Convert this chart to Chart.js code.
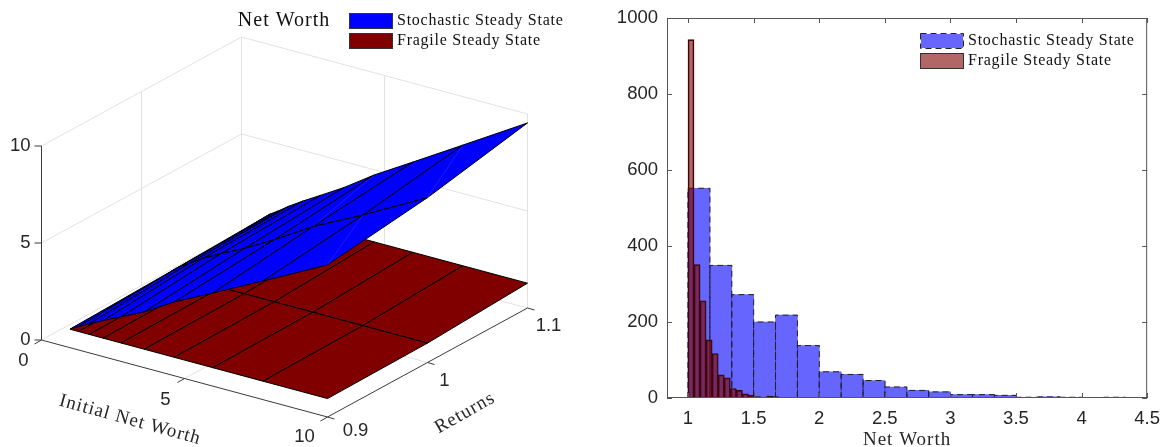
<!DOCTYPE html>
<html><head><meta charset="utf-8">
<script src="https://cdn.jsdelivr.net/npm/chart.js@4"></script>
<style>html,body{margin:0;padding:0;background:#fff;overflow:hidden}canvas{position:absolute;top:0}</style>
</head><body>
<canvas id="surf" width="585" height="447" style="left:0"></canvas>
<canvas id="hist" width="572" height="447" style="left:590px"></canvas>
<script>
// ---- data ----
const seriesNames = ['Stochastic Steady State','Fragile Steady State'];
const netWorthGrid = [1,1.29,1.67,2.15,2.78,3.59,4.64,5.99,7.74,10];
const returnsGrid = [0.9,1,1.1];
const stochasticAt090 = [0.96,1.2,1.5,1.85,2.3,2.87,3.8,4.8,6.11,7.84];
const stochasticAt100 = [1.1,1.45,1.8,2.25,2.75,3.33,4.2,5.41,6.7,8.5];
const stochasticAt110 = [1.27,1.55,1.95,2.4,2.95,3.67,4.73,5.93,7.5,9.54];
const fragileAt090 = [0.95,0.95,0.95,0.95,0.95,0.95,0.95,0.95,0.95,0.95];
const fragileAt100 = [1,1,1,1,1,1,1,1,1,1];
const fragileAt110 = [1.28,1.28,1.28,1.28,1.28,1.28,1.28,1.28,1.28,1.28];
const xTicks3d = [0,5,10];
const rTicks3d = [0.9,1,1.1];
const zTicks3d = [0,5,10];
const surfTitle = 'Net Worth', xLabel3d = 'Initial Net Worth', rLabel3d = 'Returns';

const histXLabel = 'Net Worth';
const histXTicks = [1,1.5,2,2.5,3,3.5,4,4.5];
const histYTicks = [0,200,400,600,800,1000];
const stochasticBinStart = 1, stochasticBinWidth = 0.1668;
const stochasticCounts = [552,349,272,200,218,138,69,62,46,29,20,16,9,9,7,2,3,2,0,2];
const fragileBinStart = 1, fragileBinWidth = 0.0461;
const fragileCounts = [943,351,256,153,117,61,53,25,20,11,7,4,2,5,4,2,1,1,1,0,1,1,1];

// ---- shared style ----
const INK='#262626', SERIF='"Liberation Serif"', SANS='"Liberation Sans"';
const BLUE='#0000ff', RED='#800000';
Chart.defaults.font.family=SANS;
Chart.defaults.animation=false;

// ---- 3-D view (orthographic projection onto the left panel) ----
function project(x,r,z){
  return {x:41.5+28.6*x+(r-0.9)*1000, y:340+7.7*x-(r-0.9)*545-19.4*z};
}
const lineDs=(pts,color,w,ord)=>({type:'scatter',data:pts,showLine:true,pointRadius:0,borderColor:color,borderWidth:w,fill:false,tension:0,order:ord,label:'',clip:false});
let ds3=[];
let ord=1000;
const gridC='#e2e2e2', axC='#3a3a3a';
const zTop=zTicks3d[zTicks3d.length-1], xEnd=xTicks3d[xTicks3d.length-1], rLo=rTicks3d[0], rHi=rTicks3d[2];
zTicks3d.forEach(z=>{
  ds3.push(lineDs([project(0,rLo,z),project(0,rHi,z),project(xEnd,rHi,z)],gridC,1,ord--));
});
ds3.push(lineDs([project(0,rHi,0),project(0,rHi,zTop)],gridC,1,ord--));
ds3.push(lineDs([project(xEnd,rHi,0),project(xEnd,rHi,zTop)],gridC,1,ord--));
ds3.push(lineDs([project(0,rTicks3d[1],0),project(0,rTicks3d[1],zTop)],gridC,1,ord--));
ds3.push(lineDs([project(xTicks3d[1],rHi,0),project(xTicks3d[1],rHi,zTop)],gridC,1,ord--));
ds3.push(lineDs([project(xTicks3d[1],rLo,0),project(xTicks3d[1],rHi,0)],gridC,1,ord--));
ds3.push(lineDs([project(0,rTicks3d[1],0),project(xEnd,rTicks3d[1],0)],gridC,1,ord--));
ds3.push(lineDs([project(0,rLo,zTop),project(0,rLo,0),project(xEnd,rLo,0),project(xEnd,rHi,0)],axC,1,ord--));
const shift=(p,dx,dy)=>({x:p.x+dx,y:p.y+dy});
zTicks3d.forEach(z=>{const p=project(0,rLo,z);ds3.push(lineDs([p,shift(p,-7,0)],axC,1,ord--));});
xTicks3d.forEach(x=>{const p=project(x,rLo,0);ds3.push(lineDs([p,shift(p,-7,4)],axC,1,ord--));});
rTicks3d.forEach(r=>{const p=project(xEnd,r,0);ds3.push(lineDs([p,shift(p,7,2)],axC,1,ord--));});
function addSurface(rows,color,label){
  for(let j=rows.length-2;j>=0;j--){
    for(let i=0;i<netWorthGrid.length-1;i++){
      const a=project(netWorthGrid[i],returnsGrid[j],rows[j][i]),
            b=project(netWorthGrid[i+1],returnsGrid[j],rows[j][i+1]),
            c=project(netWorthGrid[i+1],returnsGrid[j+1],rows[j+1][i+1]),
            d=project(netWorthGrid[i],returnsGrid[j+1],rows[j+1][i]);
      ds3.push({type:'scatter',label,data:[a,b,c,d,a],showLine:true,pointRadius:0,tension:0,
        borderColor:'#000',borderWidth:1,backgroundColor:color,fill:'shape',order:ord--,clip:false});
    }
  }
}
addSurface([fragileAt090,fragileAt100,fragileAt110],RED,seriesNames[1]);
addSurface([stochasticAt090,stochasticAt100,stochasticAt110],BLUE,seriesNames[0]);
[[8,1],[8,0],[6,1]].forEach(([i,j])=>{
  const rows=[stochasticAt090,stochasticAt100,stochasticAt110];
  ds3.push(lineDs([project(netWorthGrid[i],returnsGrid[j+1],rows[j+1][i]),project(netWorthGrid[i+1],returnsGrid[j],rows[j][i+1])],'rgba(120,140,255,0.4)',0.5,ord--));
});

function label(ctx,t,x,y,font,color,align,rot,spacing){
  ctx.save();ctx.translate(x,y);if(rot)ctx.rotate(rot);
  ctx.font=font;ctx.fillStyle=color;ctx.textAlign=align||'center';ctx.textBaseline='middle';
  if(spacing)ctx.letterSpacing=spacing;
  ctx.fillText(t,0,0);ctx.restore();
}
function patch(ctx,x,y,w,h,fill,dash){
  ctx.save();ctx.fillStyle=fill;ctx.fillRect(x,y,w,h);
  ctx.strokeStyle=dash?'#fff':'#333';ctx.lineWidth=1;
  ctx.strokeRect(x+.5,y+.5,w-1,h-1);
  if(dash){ctx.strokeStyle='#222';ctx.setLineDash([6,4]);ctx.strokeRect(x+.5,y+.5,w-1,h-1);}
  ctx.restore();
}
const tickFont='18.5px '+SANS, texFont='19px '+SERIF;
const labels3d={id:'labels3d',afterDraw(c){
  const ctx=c.ctx;
  zTicks3d.forEach(z=>{const p=project(0,rLo,z);label(ctx,String(z),p.x-11,p.y+0,tickFont,INK,'right');});
  const xo=[[-18,21],[-19,21],[-23,20]];
  xTicks3d.forEach((x,i)=>{const p=project(x,rLo,0);label(ctx,String(x),p.x+xo[i][0],p.y+xo[i][1],tickFont,INK);});
  const ro=[[28,14],[17,18],[21,18]];
  rTicks3d.forEach((r,i)=>{const p=project(xEnd,r,0);label(ctx,String(r),p.x+ro[i][0],p.y+ro[i][1],tickFont,INK);});
  label(ctx,surfTitle,284,21,'20px '+SERIF,'#111','center',0,'1px');
  label(ctx,xLabel3d,130,420,texFont,INK,'center',15.5*Math.PI/180,'1px');
  label(ctx,rLabel3d,465,413,texFont,INK,'center',-29.5*Math.PI/180,'1px');
  patch(ctx,349,13,44,16,BLUE);patch(ctx,349,33,44,16,RED);
  label(ctx,seriesNames[0],397,21,'16px '+SERIF,'#111','left',0,'0.75px');
  label(ctx,seriesNames[1],397,41,'16px '+SERIF,'#111','left',0,'0.75px');
}};
new Chart(document.getElementById('surf'),{type:'scatter',data:{datasets:ds3},plugins:[labels3d],options:{
  responsive:false,layout:{padding:0},
  plugins:{legend:{display:false},tooltip:{enabled:false}},
  scales:{x:{type:'linear',display:false,min:0,max:585},y:{type:'linear',display:false,min:0,max:447,reverse:true}}
}});

// ---- histogram ----
const centers=(start,w,arr)=>arr.map((v,i)=>({x:start+w*(i+0.5),y:v}));
const binPx=w=>w*131.7;
const hdata={datasets:[
  {label:seriesNames[0],data:centers(stochasticBinStart,stochasticBinWidth,stochasticCounts).filter(p=>p.y>0),
   backgroundColor:'rgba(0,0,255,0.6)',borderWidth:0,barThickness:binPx(stochasticBinWidth),grouped:false,order:2},
  {label:seriesNames[1],data:centers(fragileBinStart,fragileBinWidth,fragileCounts).filter(p=>p.y>0),
   backgroundColor:'rgba(128,0,0,0.6)',borderColor:'#2a0a10',borderWidth:1,barThickness:binPx(fragileBinWidth),grouped:false,order:1}
]};
const histDeco={id:'histDeco',
  afterDatasetDraw(c,args){
    if(args.index!==0)return;
    const ctx=c.ctx;ctx.save();ctx.strokeStyle='#222';ctx.lineWidth=1;ctx.setLineDash([6,4]);
    args.meta.data.forEach(b=>{
      const l=b.x-b.width/2,r=b.x+b.width/2;
      ctx.beginPath();ctx.moveTo(l,b.base);ctx.lineTo(l,b.y);ctx.lineTo(r,b.y);ctx.lineTo(r,b.base);ctx.stroke();
    });
    ctx.restore();
  },
  afterDraw(c){
    const ctx=c.ctx,a=c.chartArea,sx=c.scales.x,sy=c.scales.y;
    ctx.save();ctx.strokeStyle='#555';ctx.lineWidth=1;
    ctx.strokeRect(a.left+.5,a.top+.5,a.width-1,a.height-1);
    ctx.beginPath();
    histXTicks.forEach(v=>{const p=Math.round(sx.getPixelForValue(v))+.5;ctx.moveTo(p,a.bottom);ctx.lineTo(p,a.bottom-5);ctx.moveTo(p,a.top);ctx.lineTo(p,a.top+5);});
    histYTicks.forEach(v=>{const p=Math.round(sy.getPixelForValue(v))+.5;ctx.moveTo(a.left,p);ctx.lineTo(a.left+5,p);ctx.moveTo(a.right,p);ctx.lineTo(a.right-5,p);});
    ctx.stroke();ctx.restore();
    const ox=-590;
    patch(ctx,920+ox,33,44,16,'rgba(0,0,255,0.6)',true);
    patch(ctx,920+ox,53,44,16,'rgba(128,0,0,0.6)');
    label(ctx,seriesNames[0],968+ox,41,'16px '+SERIF,'#111','left',0,'0.75px');
    label(ctx,seriesNames[1],968+ox,61,'16px '+SERIF,'#111','left',0,'0.75px');
  }
};
new Chart(document.getElementById('hist'),{type:'bar',data:hdata,plugins:[histDeco],options:{
  responsive:false,layout:{autoPadding:false,padding:{left:0,right:13,top:18,bottom:0}},
  plugins:{legend:{display:false},tooltip:{enabled:false}},
  scales:{
    x:{type:'linear',min:0.84,max:4.5,offset:false,
       grid:{display:false},border:{display:false},
       afterBuildTicks(s){s.ticks=histXTicks.map(v=>({value:v}));},
       ticks:{color:INK,font:{size:18.5,family:SANS},maxRotation:0,padding:2,callback:v=>String(v)},
       title:{display:true,text:histXLabel,color:INK,font:{size:19,family:SERIF},padding:{top:0,bottom:-4}},
       afterFit(s){
         s.height=49;
         if(!s._spaced){s._spaced=true;const o=s.drawTitle;
           s.drawTitle=function(...a){const ctx=this.ctx;ctx.save();ctx.letterSpacing='1px';o.apply(this,a);ctx.restore();};}
       }},
    y:{type:'linear',min:0,max:1000,
       grid:{display:false},border:{display:false},
       afterBuildTicks(s){s.ticks=histYTicks.map(v=>({value:v}));},
       ticks:{color:INK,font:{size:18.5,family:SANS},padding:1,callback:v=>String(v)},
       afterFit(s){s.width=77;}}
  }
}});
</script>
</body></html>
